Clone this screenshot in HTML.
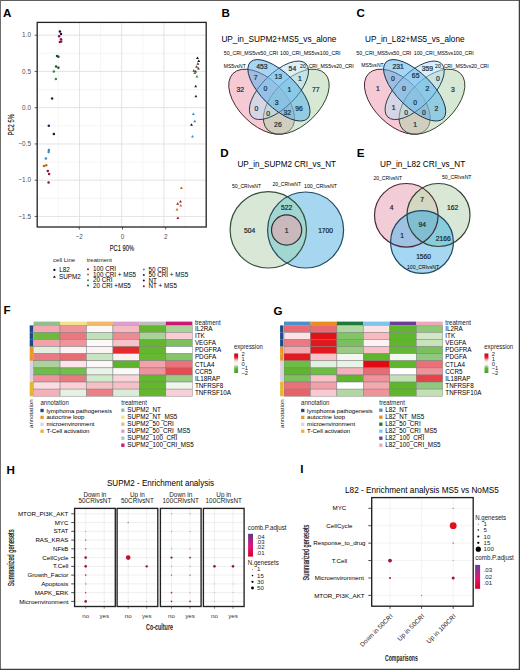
<!DOCTYPE html>
<html><head><meta charset="utf-8"><title>Figure</title>
<style>
html,body{margin:0;padding:0;background:#fff;}
body{width:520px;height:670px;overflow:hidden;}
svg{display:block;font-family:"Liberation Sans",sans-serif;}
</style></head><body>
<svg width="520" height="670" viewBox="0 0 520 670">
<rect width="520" height="670" fill="#fff"/>
<rect x="0" y="0" width="520" height="1" fill="#5e5e5e"/>
<rect x="0" y="0" width="1" height="670" fill="#6e6e6e"/>
<rect x="518.75" y="0" width="1.25" height="670" fill="#3c3c3c"/>
<rect x="0" y="668.75" width="520" height="1.25" fill="#3c3c3c"/>
<text x="3.00" y="16.80" font-size="11.60" font-weight="bold" fill="#000">A</text>
<text x="221.60" y="16.70" font-size="11.60" font-weight="bold" fill="#000">B</text>
<text x="356.60" y="16.90" font-size="11.60" font-weight="bold" fill="#000">C</text>
<text x="220.30" y="157.40" font-size="11.60" font-weight="bold" fill="#000">D</text>
<text x="356.80" y="156.60" font-size="11.60" font-weight="bold" fill="#000">E</text>
<text x="3.40" y="314.10" font-size="11.60" font-weight="bold" fill="#000">F</text>
<text x="273.40" y="314.50" font-size="11.60" font-weight="bold" fill="#000">G</text>
<text x="6.50" y="473.50" font-size="11.60" font-weight="bold" fill="#000">H</text>
<text x="300.20" y="473.10" font-size="11.60" font-weight="bold" fill="#000">I</text>
<line x1="58.40" y1="22.4" x2="58.40" y2="227.0" stroke="#eeeeee" stroke-width="0.6"/>
<line x1="100.60" y1="22.4" x2="100.60" y2="227.0" stroke="#eeeeee" stroke-width="0.6"/>
<line x1="142.80" y1="22.4" x2="142.80" y2="227.0" stroke="#eeeeee" stroke-width="0.6"/>
<line x1="185.00" y1="22.4" x2="185.00" y2="227.0" stroke="#eeeeee" stroke-width="0.6"/>
<line x1="37.2" y1="53.33" x2="206.2" y2="53.33" stroke="#eeeeee" stroke-width="0.6"/>
<line x1="37.2" y1="89.58" x2="206.2" y2="89.58" stroke="#eeeeee" stroke-width="0.6"/>
<line x1="37.2" y1="125.83" x2="206.2" y2="125.83" stroke="#eeeeee" stroke-width="0.6"/>
<line x1="37.2" y1="162.07" x2="206.2" y2="162.07" stroke="#eeeeee" stroke-width="0.6"/>
<line x1="37.2" y1="198.32" x2="206.2" y2="198.32" stroke="#eeeeee" stroke-width="0.6"/>
<line x1="79.50" y1="22.4" x2="79.50" y2="227.0" stroke="#e0e0e0" stroke-width="0.9"/>
<line x1="121.70" y1="22.4" x2="121.70" y2="227.0" stroke="#e0e0e0" stroke-width="0.9"/>
<line x1="163.90" y1="22.4" x2="163.90" y2="227.0" stroke="#e0e0e0" stroke-width="0.9"/>
<line x1="37.2" y1="35.20" x2="206.2" y2="35.20" stroke="#e0e0e0" stroke-width="0.9"/>
<line x1="37.2" y1="71.45" x2="206.2" y2="71.45" stroke="#e0e0e0" stroke-width="0.9"/>
<line x1="37.2" y1="107.70" x2="206.2" y2="107.70" stroke="#e0e0e0" stroke-width="0.9"/>
<line x1="37.2" y1="143.95" x2="206.2" y2="143.95" stroke="#e0e0e0" stroke-width="0.9"/>
<line x1="37.2" y1="180.20" x2="206.2" y2="180.20" stroke="#e0e0e0" stroke-width="0.9"/>
<line x1="37.2" y1="216.45" x2="206.2" y2="216.45" stroke="#e0e0e0" stroke-width="0.9"/>
<circle cx="59.9" cy="31.4" r="1.25" fill="#240a30"/>
<circle cx="61.0" cy="34.0" r="1.25" fill="#240a30"/>
<circle cx="59.1" cy="36.2" r="1.25" fill="#920f50"/>
<circle cx="61.0" cy="39.3" r="1.25" fill="#920f50"/>
<circle cx="59.9" cy="42.0" r="1.25" fill="#920f50"/>
<circle cx="61.2" cy="41.6" r="1.25" fill="#96142a"/>
<circle cx="57.0" cy="55.9" r="1.25" fill="#1a5530"/>
<circle cx="58.4" cy="56.8" r="1.25" fill="#1a5530"/>
<circle cx="56.1" cy="66.6" r="1.25" fill="#1a5530"/>
<circle cx="58.4" cy="67.8" r="1.25" fill="#1a5530"/>
<circle cx="53.9" cy="71.6" r="1.25" fill="#3a8a32"/>
<circle cx="55.9" cy="79.0" r="1.25" fill="#3a8a32"/>
<circle cx="52.1" cy="98.6" r="1.25" fill="#14284c"/>
<circle cx="48.8" cy="125.7" r="1.25" fill="#14284c"/>
<circle cx="53.9" cy="134.1" r="1.25" fill="#240a30"/>
<circle cx="48.9" cy="150.0" r="1.25" fill="#3a88c0"/>
<circle cx="48.6" cy="152.1" r="1.25" fill="#3a88c0"/>
<circle cx="45.9" cy="158.4" r="1.25" fill="#3a88c0"/>
<circle cx="44.0" cy="166.1" r="1.25" fill="#b86a1e"/>
<circle cx="46.2" cy="165.2" r="1.25" fill="#b86a1e"/>
<circle cx="47.8" cy="170.9" r="1.25" fill="#96142a"/>
<circle cx="49.1" cy="174.0" r="1.25" fill="#96142a"/>
<circle cx="48.6" cy="182.5" r="1.25" fill="#96142a"/>
<path d="M197.50,56.40 L198.95,58.90 L196.05,58.90 Z" fill="#240a30"/>
<path d="M198.80,59.40 L200.25,61.90 L197.35,61.90 Z" fill="#240a30"/>
<path d="M197.90,62.30 L199.35,64.80 L196.45,64.80 Z" fill="#920f50"/>
<path d="M196.60,65.20 L198.05,67.70 L195.15,67.70 Z" fill="#1a5530"/>
<path d="M198.40,67.00 L199.85,69.50 L196.95,69.50 Z" fill="#1a5530"/>
<path d="M193.90,69.20 L195.35,71.70 L192.45,71.70 Z" fill="#96142a"/>
<path d="M195.70,70.10 L197.15,72.60 L194.25,72.60 Z" fill="#920f50"/>
<path d="M194.80,71.50 L196.25,74.00 L193.35,74.00 Z" fill="#3a8a32"/>
<path d="M197.00,75.10 L198.45,77.60 L195.55,77.60 Z" fill="#3a8a32"/>
<path d="M195.70,84.80 L197.15,87.30 L194.25,87.30 Z" fill="#14284c"/>
<path d="M195.90,94.70 L197.35,97.20 L194.45,97.20 Z" fill="#14284c"/>
<path d="M193.40,112.60 L194.85,115.10 L191.95,115.10 Z" fill="#3a88c0"/>
<path d="M194.80,119.80 L196.25,122.30 L193.35,122.30 Z" fill="#3a88c0"/>
<path d="M191.50,123.30 L192.95,125.80 L190.05,125.80 Z" fill="#240a30"/>
<path d="M192.50,135.00 L193.95,137.50 L191.05,137.50 Z" fill="#3a88c0"/>
<path d="M181.40,186.50 L182.85,189.00 L179.95,189.00 Z" fill="#b86a1e"/>
<path d="M180.50,199.90 L181.95,202.40 L179.05,202.40 Z" fill="#96142a"/>
<path d="M177.70,202.30 L179.15,204.80 L176.25,204.80 Z" fill="#96142a"/>
<path d="M180.70,204.10 L182.15,206.60 L179.25,206.60 Z" fill="#b86a1e"/>
<path d="M177.00,208.00 L178.45,210.50 L175.55,210.50 Z" fill="#b86a1e"/>
<path d="M177.90,216.40 L179.35,218.90 L176.45,218.90 Z" fill="#96142a"/>
<rect x="37.2" y="22.4" width="169.00" height="204.60" fill="none" stroke="#222" stroke-width="1.3"/>
<line x1="34.7" y1="35.20" x2="37.2" y2="35.20" stroke="#333" stroke-width="0.8"/>
<text x="31.00" y="37.40" font-size="6.40" text-anchor="end" fill="#4d4d4d">1.0</text>
<line x1="34.7" y1="71.45" x2="37.2" y2="71.45" stroke="#333" stroke-width="0.8"/>
<text x="31.00" y="73.65" font-size="6.40" text-anchor="end" fill="#4d4d4d">0.5</text>
<line x1="34.7" y1="107.70" x2="37.2" y2="107.70" stroke="#333" stroke-width="0.8"/>
<text x="31.00" y="109.90" font-size="6.40" text-anchor="end" fill="#4d4d4d">0.0</text>
<line x1="34.7" y1="143.95" x2="37.2" y2="143.95" stroke="#333" stroke-width="0.8"/>
<text x="31.00" y="146.15" font-size="6.40" text-anchor="end" fill="#4d4d4d">−0.5</text>
<line x1="34.7" y1="180.20" x2="37.2" y2="180.20" stroke="#333" stroke-width="0.8"/>
<text x="31.00" y="182.40" font-size="6.40" text-anchor="end" fill="#4d4d4d">−1.0</text>
<line x1="34.7" y1="216.45" x2="37.2" y2="216.45" stroke="#333" stroke-width="0.8"/>
<text x="31.00" y="218.65" font-size="6.40" text-anchor="end" fill="#4d4d4d">−1.5</text>
<line x1="79.30" y1="227.0" x2="79.30" y2="229.5" stroke="#333" stroke-width="0.8"/>
<text x="79.30" y="238.70" font-size="6.40" text-anchor="middle" fill="#4d4d4d">−2</text>
<line x1="122.50" y1="227.0" x2="122.50" y2="229.5" stroke="#333" stroke-width="0.8"/>
<text x="122.50" y="238.70" font-size="6.40" text-anchor="middle" fill="#4d4d4d">0</text>
<line x1="165.70" y1="227.0" x2="165.70" y2="229.5" stroke="#333" stroke-width="0.8"/>
<text x="165.70" y="238.70" font-size="6.40" text-anchor="middle" fill="#4d4d4d">2</text>
<text x="121.90" y="250.92" font-size="8.20" text-anchor="middle" fill="#111" textLength="24.40" lengthAdjust="spacingAndGlyphs" stroke="#111" stroke-width="0.12">PC1 90%</text>
<text x="11.20" y="127.62" font-size="8.20" text-anchor="middle" fill="#111" textLength="21.20" lengthAdjust="spacingAndGlyphs" transform="rotate(-90 11.20 124.80)" stroke="#111" stroke-width="0.12">PC2 5%</text>
<text x="53.00" y="261.98" font-size="6.05" fill="#222">cell Line</text>
<text x="86.70" y="261.96" font-size="6.00" fill="#222">treatment</text>
<circle cx="54.4" cy="269.9" r="1.1" fill="#000"/>
<path d="M54.4,275.4 L55.8,277.8 L53.0,277.8 Z" fill="#000"/>
<text x="59.20" y="272.07" font-size="6.30">L82</text>
<text x="59.00" y="279.07" font-size="6.30">SUPM2</text>
<circle cx="88.0" cy="269.2" r="1.0" fill="#96142a"/>
<text x="92.90" y="271.37" font-size="6.30">100 CRI</text>
<circle cx="88.0" cy="274.6" r="1.0" fill="#b86a1e"/>
<text x="92.90" y="276.77" font-size="6.30">100 CRI + MS5</text>
<circle cx="88.0" cy="280.2" r="1.0" fill="#3a8a32"/>
<text x="92.90" y="282.37" font-size="6.30">20 CRI</text>
<circle cx="88.0" cy="285.6" r="1.0" fill="#1a5530"/>
<text x="92.90" y="287.77" font-size="6.30">20 CRI +MS5</text>
<circle cx="143.8" cy="269.6" r="1.0" fill="#3a88c0"/>
<text x="148.50" y="271.77" font-size="6.30">50 CRI</text>
<circle cx="143.8" cy="275.0" r="1.0" fill="#14284c"/>
<text x="148.50" y="277.17" font-size="6.30">50 CRI + MS5</text>
<circle cx="143.8" cy="280.4" r="1.0" fill="#240a30"/>
<text x="148.50" y="282.57" font-size="6.30">NT</text>
<circle cx="143.8" cy="286.2" r="1.0" fill="#920f50"/>
<text x="148.50" y="288.37" font-size="6.30">NT + MS5</text>
<text x="221.40" y="42.19" font-size="8.70" textLength="115.00" lengthAdjust="spacingAndGlyphs">UP_in_SUPM2+MS5_vs_alone</text>
<text x="223.75" y="54.79" font-size="5.20" textLength="54.30" lengthAdjust="spacingAndGlyphs">50_CRI_MS5vs50_CRI</text>
<text x="280.00" y="54.79" font-size="5.20" textLength="60.50" lengthAdjust="spacingAndGlyphs">100_CRI_MS5vs100_CRI</text>
<text x="223.75" y="67.79" font-size="5.20" textLength="22.00" lengthAdjust="spacingAndGlyphs">MS5vsNT</text>
<g transform="translate(221.200 155.400) scale(115.500 -114.200)">
<ellipse cx="0.35" cy="0.47" rx="0.35" ry="0.2" transform="rotate(135 0.35 0.47)" fill="#eb95a9" fill-opacity="0.5"/>
<ellipse cx="0.35" cy="0.47" rx="0.35" ry="0.2" transform="rotate(135 0.35 0.47)" fill="none" stroke="#4a2630" stroke-width="1.0" vector-effect="non-scaling-stroke"/>
<ellipse cx="0.65" cy="0.47" rx="0.35" ry="0.2" transform="rotate(45 0.65 0.47)" fill="#afd1a9" fill-opacity="0.5"/>
<ellipse cx="0.65" cy="0.47" rx="0.35" ry="0.2" transform="rotate(45 0.65 0.47)" fill="none" stroke="#33432e" stroke-width="1.0" vector-effect="non-scaling-stroke"/>
<ellipse cx="0.5" cy="0.57" rx="0.33" ry="0.15" transform="rotate(45 0.5 0.57)" fill="#b9ddf1" fill-opacity="0.5"/>
<ellipse cx="0.5" cy="0.57" rx="0.33" ry="0.15" transform="rotate(45 0.5 0.57)" fill="none" stroke="#27404e" stroke-width="1.0" vector-effect="non-scaling-stroke"/>
<ellipse cx="0.5" cy="0.57" rx="0.35" ry="0.15" transform="rotate(135 0.5 0.57)" fill="#50aeeb" fill-opacity="0.5"/>
<ellipse cx="0.5" cy="0.57" rx="0.35" ry="0.15" transform="rotate(135 0.5 0.57)" fill="none" stroke="#1a3550" stroke-width="1.0" vector-effect="non-scaling-stroke"/>
</g>
<text x="261.80" y="68.99" font-size="6.80" text-anchor="middle" fill="#14303f" stroke="#14303f" stroke-width="0.22">453</text>
<text x="278.25" y="78.64" font-size="6.80" text-anchor="middle" fill="#14303f" stroke="#14303f" stroke-width="0.22">13</text>
<text x="292.40" y="71.14" font-size="6.80" text-anchor="middle" fill="#14303f" stroke="#14303f" stroke-width="0.22">54</text>
<text x="255.60" y="80.44" font-size="6.80" text-anchor="middle" fill="#14303f" stroke="#14303f" stroke-width="0.22">7</text>
<text x="265.30" y="91.04" font-size="6.80" text-anchor="middle" fill="#14303f" stroke="#14303f" stroke-width="0.22">0</text>
<text x="276.60" y="104.84" font-size="6.80" text-anchor="middle" fill="#14303f" stroke="#14303f" stroke-width="0.22">3</text>
<text x="289.30" y="91.59" font-size="6.80" text-anchor="middle" fill="#14303f" stroke="#14303f" stroke-width="0.22">1</text>
<text x="299.90" y="81.04" font-size="6.80" text-anchor="middle" fill="#14303f" stroke="#14303f" stroke-width="0.22">1</text>
<text x="240.20" y="91.64" font-size="6.80" text-anchor="middle" fill="#14303f" stroke="#14303f" stroke-width="0.22">32</text>
<text x="256.50" y="110.84" font-size="6.80" text-anchor="middle" fill="#14303f" stroke="#14303f" stroke-width="0.22">0</text>
<text x="268.25" y="115.64" font-size="6.80" text-anchor="middle" fill="#14303f" stroke="#14303f" stroke-width="0.22">0</text>
<text x="277.90" y="127.14" font-size="6.80" text-anchor="middle" fill="#14303f" stroke="#14303f" stroke-width="0.22">26</text>
<text x="287.20" y="114.74" font-size="6.80" text-anchor="middle" fill="#14303f" stroke="#14303f" stroke-width="0.22">32</text>
<text x="299.00" y="110.74" font-size="6.80" text-anchor="middle" fill="#14303f" stroke="#14303f" stroke-width="0.22">96</text>
<text x="315.75" y="91.59" font-size="6.80" text-anchor="middle" fill="#14303f" stroke="#14303f" stroke-width="0.22">77</text>
<text x="300.00" y="67.89" font-size="5.20" textLength="53.80" lengthAdjust="spacingAndGlyphs">20_CRI_MS5vs20_CRI</text>
<text x="365.00" y="42.19" font-size="8.70" textLength="99.50" lengthAdjust="spacingAndGlyphs">UP_in_L82+MS5_vs_alone</text>
<text x="356.25" y="54.79" font-size="5.20" textLength="55.00" lengthAdjust="spacingAndGlyphs">50_CRI_MS5vs50_CRI</text>
<text x="413.75" y="54.79" font-size="5.20" textLength="60.00" lengthAdjust="spacingAndGlyphs">100_CRI_MS5vs100_CRI</text>
<text x="361.25" y="67.39" font-size="5.20" textLength="22.50" lengthAdjust="spacingAndGlyphs">MS5vsNT</text>
<g transform="translate(356.900 155.400) scale(115.500 -114.200)">
<ellipse cx="0.35" cy="0.47" rx="0.35" ry="0.2" transform="rotate(135 0.35 0.47)" fill="#eb95a9" fill-opacity="0.5"/>
<ellipse cx="0.35" cy="0.47" rx="0.35" ry="0.2" transform="rotate(135 0.35 0.47)" fill="none" stroke="#4a2630" stroke-width="1.0" vector-effect="non-scaling-stroke"/>
<ellipse cx="0.65" cy="0.47" rx="0.35" ry="0.2" transform="rotate(45 0.65 0.47)" fill="#afd1a9" fill-opacity="0.5"/>
<ellipse cx="0.65" cy="0.47" rx="0.35" ry="0.2" transform="rotate(45 0.65 0.47)" fill="none" stroke="#33432e" stroke-width="1.0" vector-effect="non-scaling-stroke"/>
<ellipse cx="0.5" cy="0.57" rx="0.33" ry="0.15" transform="rotate(45 0.5 0.57)" fill="#b9ddf1" fill-opacity="0.5"/>
<ellipse cx="0.5" cy="0.57" rx="0.33" ry="0.15" transform="rotate(45 0.5 0.57)" fill="none" stroke="#27404e" stroke-width="1.0" vector-effect="non-scaling-stroke"/>
<ellipse cx="0.5" cy="0.57" rx="0.35" ry="0.15" transform="rotate(135 0.5 0.57)" fill="#50aeeb" fill-opacity="0.5"/>
<ellipse cx="0.5" cy="0.57" rx="0.35" ry="0.15" transform="rotate(135 0.5 0.57)" fill="none" stroke="#1a3550" stroke-width="1.0" vector-effect="non-scaling-stroke"/>
</g>
<text x="398.10" y="68.99" font-size="6.80" text-anchor="middle" fill="#14303f" stroke="#14303f" stroke-width="0.22">231</text>
<text x="415.65" y="78.14" font-size="6.80" text-anchor="middle" fill="#14303f" stroke="#14303f" stroke-width="0.22">65</text>
<text x="427.40" y="70.74" font-size="6.80" text-anchor="middle" fill="#14303f" stroke="#14303f" stroke-width="0.22">359</text>
<text x="392.90" y="80.64" font-size="6.80" text-anchor="middle" fill="#14303f" stroke="#14303f" stroke-width="0.22">0</text>
<text x="403.90" y="91.34" font-size="6.80" text-anchor="middle" fill="#14303f" stroke="#14303f" stroke-width="0.22">0</text>
<text x="415.20" y="104.54" font-size="6.80" text-anchor="middle" fill="#14303f" stroke="#14303f" stroke-width="0.22">0</text>
<text x="427.40" y="91.14" font-size="6.80" text-anchor="middle" fill="#14303f" stroke="#14303f" stroke-width="0.22">2</text>
<text x="438.00" y="81.04" font-size="6.80" text-anchor="middle" fill="#14303f" stroke="#14303f" stroke-width="0.22">0</text>
<text x="377.80" y="91.04" font-size="6.80" text-anchor="middle" fill="#14303f" stroke="#14303f" stroke-width="0.22">1</text>
<text x="393.70" y="110.24" font-size="6.80" text-anchor="middle" fill="#14303f" stroke="#14303f" stroke-width="0.22">1</text>
<text x="406.10" y="115.24" font-size="6.80" text-anchor="middle" fill="#14303f" stroke="#14303f" stroke-width="0.22">0</text>
<text x="415.20" y="127.14" font-size="6.80" text-anchor="middle" fill="#14303f" stroke="#14303f" stroke-width="0.22">1</text>
<text x="424.00" y="115.24" font-size="6.80" text-anchor="middle" fill="#14303f" stroke="#14303f" stroke-width="0.22">0</text>
<text x="436.30" y="110.94" font-size="6.80" text-anchor="middle" fill="#14303f" stroke="#14303f" stroke-width="0.22">2</text>
<text x="453.00" y="91.59" font-size="6.80" text-anchor="middle" fill="#14303f" stroke="#14303f" stroke-width="0.22">3</text>
<text x="435.00" y="67.59" font-size="5.20" textLength="53.80" lengthAdjust="spacingAndGlyphs">20_CRI_MS5vs20_CRI</text>
<text x="237.50" y="166.79" font-size="8.70" textLength="98.50" lengthAdjust="spacingAndGlyphs">UP_in_SUPM2 CRI_vs_NT</text>
<text x="232.00" y="188.15" font-size="5.10" textLength="29.00" lengthAdjust="spacingAndGlyphs">50_CRIvsNT</text>
<text x="272.50" y="186.35" font-size="5.10" textLength="28.50" lengthAdjust="spacingAndGlyphs">20_CRIvsNT</text>
<text x="304.00" y="188.25" font-size="5.10" textLength="33.00" lengthAdjust="spacingAndGlyphs">100_CRIvsNT</text>
<defs><clipPath id="dg"><circle cx="268.3" cy="229.8" r="38.2"/></clipPath></defs>
<circle cx="305.6" cy="230" r="38.0" fill="#a6d6f0"/>
<circle cx="268.3" cy="229.8" r="38.2" fill="#d9e8d6"/>
<circle cx="305.6" cy="230" r="38.0" fill="#a2d6d0" clip-path="url(#dg)"/>
<circle cx="286.6" cy="230" r="15.1" fill="#c9b8bc"/>
<circle cx="268.3" cy="229.8" r="38.2" fill="none" stroke="#34513a" stroke-width="1.2"/>
<circle cx="305.6" cy="230" r="38.0" fill="none" stroke="#1f4a62" stroke-width="1.2"/>
<circle cx="286.6" cy="230" r="15.1" fill="none" stroke="#2a3234" stroke-width="1.2"/>
<text x="249.70" y="232.50" font-size="6.70" text-anchor="middle" fill="#14262f" stroke="#14262f" stroke-width="0.2">504</text>
<text x="286.60" y="210.20" font-size="6.70" text-anchor="middle" fill="#14262f" stroke="#14262f" stroke-width="0.2">522</text>
<text x="286.60" y="232.80" font-size="6.70" text-anchor="middle" fill="#14262f" stroke="#14262f" stroke-width="0.2">1</text>
<text x="325.60" y="232.70" font-size="6.70" text-anchor="middle" fill="#14262f" stroke="#14262f" stroke-width="0.2">1700</text>
<text x="380.00" y="166.89" font-size="8.70" textLength="85.20" lengthAdjust="spacingAndGlyphs">UP_in_L82 CRI_vs_NT</text>
<text x="373.50" y="179.55" font-size="5.10" textLength="28.50" lengthAdjust="spacingAndGlyphs">20_CRIvsNT</text>
<text x="442.00" y="179.05" font-size="5.10" textLength="29.50" lengthAdjust="spacingAndGlyphs">50_CRIvsNT</text>
<defs><clipPath id="ep"><circle cx="406.3" cy="215.3" r="31.8"/></clipPath><clipPath id="eg"><circle cx="438.5" cy="215.0" r="31.5"/></clipPath></defs>
<circle cx="406.3" cy="215.3" r="31.8" fill="#f2cdd7"/>
<circle cx="438.5" cy="215.0" r="31.5" fill="#d9e8d6"/>
<circle cx="422.0" cy="242.0" r="31.4" fill="#a5d7f3"/>
<circle cx="438.5" cy="215.0" r="31.5" fill="#d4d8c0" clip-path="url(#ep)"/>
<circle cx="422.0" cy="242.0" r="31.4" fill="#a0c2e2" clip-path="url(#ep)"/>
<circle cx="422.0" cy="242.0" r="31.4" fill="#87cddc" clip-path="url(#eg)"/>
<g clip-path="url(#ep)"><circle cx="422.0" cy="242.0" r="31.4" fill="#80bed2" clip-path="url(#eg)"/></g>
<circle cx="406.3" cy="215.3" r="31.8" fill="none" stroke="#4f2a38" stroke-width="1.2"/>
<circle cx="438.5" cy="215.0" r="31.5" fill="none" stroke="#344432" stroke-width="1.2"/>
<circle cx="422.0" cy="242.0" r="31.4" fill="none" stroke="#1f4660" stroke-width="1.2"/>
<text x="391.50" y="209.60" font-size="6.70" text-anchor="middle" fill="#14262f" stroke="#14262f" stroke-width="0.2">4</text>
<text x="422.00" y="201.90" font-size="6.70" text-anchor="middle" fill="#14262f" stroke="#14262f" stroke-width="0.2">7</text>
<text x="452.60" y="209.60" font-size="6.70" text-anchor="middle" fill="#14262f" stroke="#14262f" stroke-width="0.2">162</text>
<text x="422.20" y="227.30" font-size="6.70" text-anchor="middle" fill="#14262f" stroke="#14262f" stroke-width="0.2">94</text>
<text x="402.00" y="238.10" font-size="6.70" text-anchor="middle" fill="#14262f" stroke="#14262f" stroke-width="0.2">1</text>
<text x="443.30" y="240.60" font-size="6.70" text-anchor="middle" fill="#14262f" stroke="#14262f" stroke-width="0.2">2166</text>
<text x="423.60" y="258.60" font-size="6.70" text-anchor="middle" fill="#14262f" stroke="#14262f" stroke-width="0.2">1560</text>
<text x="407.00" y="268.75" font-size="5.10" textLength="32.00" lengthAdjust="spacingAndGlyphs">100_CRIvsNT</text>
<rect x="29.70" y="325.40" width="3.3" height="7.13" fill="#1a4a8a"/>
<rect x="29.70" y="332.48" width="3.3" height="7.13" fill="#1a4a8a"/>
<rect x="29.70" y="339.56" width="3.3" height="7.13" fill="#1a4a8a"/>
<rect x="29.70" y="346.64" width="3.3" height="7.13" fill="#e8962a"/>
<rect x="29.70" y="353.72" width="3.3" height="7.13" fill="#e8962a"/>
<rect x="29.70" y="360.80" width="3.3" height="7.13" fill="#dcd0e6"/>
<rect x="29.70" y="367.88" width="3.3" height="7.13" fill="#dcd0e6"/>
<rect x="29.70" y="374.96" width="3.3" height="7.13" fill="#dcd0e6"/>
<rect x="29.70" y="382.04" width="3.3" height="7.13" fill="#e6b530"/>
<rect x="29.70" y="389.12" width="3.3" height="7.13" fill="#e6b530"/>
<rect x="33.60" y="321.6" width="26.50" height="3.5" fill="#8fbf8a"/>
<rect x="60.05" y="321.6" width="26.50" height="3.5" fill="#f2e28a"/>
<rect x="86.50" y="321.6" width="26.50" height="3.5" fill="#f2b96c"/>
<rect x="112.95" y="321.6" width="26.50" height="3.5" fill="#d9a0cf"/>
<rect x="139.40" y="321.6" width="26.50" height="3.5" fill="#bdbdbd"/>
<rect x="165.85" y="321.6" width="26.50" height="3.5" fill="#cf1677"/>
<rect x="33.60" y="325.40" width="26.45" height="7.08" fill="#f4a9b2" stroke="#7a7a7a" stroke-width="0.45"/>
<rect x="33.60" y="332.48" width="26.45" height="7.08" fill="#6cb93d" stroke="#7a7a7a" stroke-width="0.45"/>
<rect x="33.60" y="339.56" width="26.45" height="7.08" fill="#f2a2ab" stroke="#7a7a7a" stroke-width="0.45"/>
<rect x="33.60" y="346.64" width="26.45" height="7.08" fill="#e2efe0" stroke="#7a7a7a" stroke-width="0.45"/>
<rect x="33.60" y="353.72" width="26.45" height="7.08" fill="#e97a83" stroke="#7a7a7a" stroke-width="0.45"/>
<rect x="33.60" y="360.80" width="26.45" height="7.08" fill="#a9d39b" stroke="#7a7a7a" stroke-width="0.45"/>
<rect x="33.60" y="367.88" width="26.45" height="7.08" fill="#70bc4b" stroke="#7a7a7a" stroke-width="0.45"/>
<rect x="33.60" y="374.96" width="26.45" height="7.08" fill="#f0929b" stroke="#7a7a7a" stroke-width="0.45"/>
<rect x="33.60" y="382.04" width="26.45" height="7.08" fill="#f9dde1" stroke="#7a7a7a" stroke-width="0.45"/>
<rect x="33.60" y="389.12" width="26.45" height="7.08" fill="#f4b1b9" stroke="#7a7a7a" stroke-width="0.45"/>
<rect x="60.05" y="325.40" width="26.45" height="7.08" fill="#f0939b" stroke="#7a7a7a" stroke-width="0.45"/>
<rect x="60.05" y="332.48" width="26.45" height="7.08" fill="#e97880" stroke="#7a7a7a" stroke-width="0.45"/>
<rect x="60.05" y="339.56" width="26.45" height="7.08" fill="#f0939b" stroke="#7a7a7a" stroke-width="0.45"/>
<rect x="60.05" y="346.64" width="26.45" height="7.08" fill="#fcf3f4" stroke="#7a7a7a" stroke-width="0.45"/>
<rect x="60.05" y="353.72" width="26.45" height="7.08" fill="#e86a72" stroke="#7a7a7a" stroke-width="0.45"/>
<rect x="60.05" y="360.80" width="26.45" height="7.08" fill="#fce4e8" stroke="#7a7a7a" stroke-width="0.45"/>
<rect x="60.05" y="367.88" width="26.45" height="7.08" fill="#72bd4d" stroke="#7a7a7a" stroke-width="0.45"/>
<rect x="60.05" y="374.96" width="26.45" height="7.08" fill="#e97880" stroke="#7a7a7a" stroke-width="0.45"/>
<rect x="60.05" y="382.04" width="26.45" height="7.08" fill="#f8d0d5" stroke="#7a7a7a" stroke-width="0.45"/>
<rect x="60.05" y="389.12" width="26.45" height="7.08" fill="#e5f1e4" stroke="#7a7a7a" stroke-width="0.45"/>
<rect x="86.50" y="325.40" width="26.45" height="7.08" fill="#fdf8f8" stroke="#7a7a7a" stroke-width="0.45"/>
<rect x="86.50" y="332.48" width="26.45" height="7.08" fill="#c2e1ba" stroke="#7a7a7a" stroke-width="0.45"/>
<rect x="86.50" y="339.56" width="26.45" height="7.08" fill="#fdf8f8" stroke="#7a7a7a" stroke-width="0.45"/>
<rect x="86.50" y="346.64" width="26.45" height="7.08" fill="#fcf4f4" stroke="#7a7a7a" stroke-width="0.45"/>
<rect x="86.50" y="353.72" width="26.45" height="7.08" fill="#c9e4c1" stroke="#7a7a7a" stroke-width="0.45"/>
<rect x="86.50" y="360.80" width="26.45" height="7.08" fill="#fdf8f8" stroke="#7a7a7a" stroke-width="0.45"/>
<rect x="86.50" y="367.88" width="26.45" height="7.08" fill="#e9f4e8" stroke="#7a7a7a" stroke-width="0.45"/>
<rect x="86.50" y="374.96" width="26.45" height="7.08" fill="#d2e9cb" stroke="#7a7a7a" stroke-width="0.45"/>
<rect x="86.50" y="382.04" width="26.45" height="7.08" fill="#f5c0c6" stroke="#7a7a7a" stroke-width="0.45"/>
<rect x="86.50" y="389.12" width="26.45" height="7.08" fill="#ec8089" stroke="#7a7a7a" stroke-width="0.45"/>
<rect x="112.95" y="325.40" width="26.45" height="7.08" fill="#f5bac2" stroke="#7a7a7a" stroke-width="0.45"/>
<rect x="112.95" y="332.48" width="26.45" height="7.08" fill="#ed8a93" stroke="#7a7a7a" stroke-width="0.45"/>
<rect x="112.95" y="339.56" width="26.45" height="7.08" fill="#f6c3ca" stroke="#7a7a7a" stroke-width="0.45"/>
<rect x="112.95" y="346.64" width="26.45" height="7.08" fill="#e52a2e" stroke="#7a7a7a" stroke-width="0.45"/>
<rect x="112.95" y="353.72" width="26.45" height="7.08" fill="#fcf0f0" stroke="#7a7a7a" stroke-width="0.45"/>
<rect x="112.95" y="360.80" width="26.45" height="7.08" fill="#5fb32b" stroke="#7a7a7a" stroke-width="0.45"/>
<rect x="112.95" y="367.88" width="26.45" height="7.08" fill="#fdf8f8" stroke="#7a7a7a" stroke-width="0.45"/>
<rect x="112.95" y="374.96" width="26.45" height="7.08" fill="#f8d5da" stroke="#7a7a7a" stroke-width="0.45"/>
<rect x="112.95" y="382.04" width="26.45" height="7.08" fill="#f5c1c8" stroke="#7a7a7a" stroke-width="0.45"/>
<rect x="112.95" y="389.12" width="26.45" height="7.08" fill="#d9ecd7" stroke="#7a7a7a" stroke-width="0.45"/>
<rect x="139.40" y="325.40" width="26.45" height="7.08" fill="#62b72c" stroke="#7a7a7a" stroke-width="0.45"/>
<rect x="139.40" y="332.48" width="26.45" height="7.08" fill="#a9d499" stroke="#7a7a7a" stroke-width="0.45"/>
<rect x="139.40" y="339.56" width="26.45" height="7.08" fill="#62b72c" stroke="#7a7a7a" stroke-width="0.45"/>
<rect x="139.40" y="346.64" width="26.45" height="7.08" fill="#62b72c" stroke="#7a7a7a" stroke-width="0.45"/>
<rect x="139.40" y="353.72" width="26.45" height="7.08" fill="#66b834" stroke="#7a7a7a" stroke-width="0.45"/>
<rect x="139.40" y="360.80" width="26.45" height="7.08" fill="#f1a2aa" stroke="#7a7a7a" stroke-width="0.45"/>
<rect x="139.40" y="367.88" width="26.45" height="7.08" fill="#ee939b" stroke="#7a7a7a" stroke-width="0.45"/>
<rect x="139.40" y="374.96" width="26.45" height="7.08" fill="#62b72c" stroke="#7a7a7a" stroke-width="0.45"/>
<rect x="139.40" y="382.04" width="26.45" height="7.08" fill="#62b72c" stroke="#7a7a7a" stroke-width="0.45"/>
<rect x="139.40" y="389.12" width="26.45" height="7.08" fill="#62b72c" stroke="#7a7a7a" stroke-width="0.45"/>
<rect x="165.85" y="325.40" width="26.45" height="7.08" fill="#a9d499" stroke="#7a7a7a" stroke-width="0.45"/>
<rect x="165.85" y="332.48" width="26.45" height="7.08" fill="#f8cdd4" stroke="#7a7a7a" stroke-width="0.45"/>
<rect x="165.85" y="339.56" width="26.45" height="7.08" fill="#7ac05c" stroke="#7a7a7a" stroke-width="0.45"/>
<rect x="165.85" y="346.64" width="26.45" height="7.08" fill="#fefefe" stroke="#7a7a7a" stroke-width="0.45"/>
<rect x="165.85" y="353.72" width="26.45" height="7.08" fill="#83c567" stroke="#7a7a7a" stroke-width="0.45"/>
<rect x="165.85" y="360.80" width="26.45" height="7.08" fill="#e9727b" stroke="#7a7a7a" stroke-width="0.45"/>
<rect x="165.85" y="367.88" width="26.45" height="7.08" fill="#e64a52" stroke="#7a7a7a" stroke-width="0.45"/>
<rect x="165.85" y="374.96" width="26.45" height="7.08" fill="#99cc82" stroke="#7a7a7a" stroke-width="0.45"/>
<rect x="165.85" y="382.04" width="26.45" height="7.08" fill="#eef6ee" stroke="#7a7a7a" stroke-width="0.45"/>
<rect x="165.85" y="389.12" width="26.45" height="7.08" fill="#f8d1d8" stroke="#7a7a7a" stroke-width="0.45"/>
<text x="194.90" y="325.20" font-size="6.40" fill="#222" textLength="25.70" lengthAdjust="spacingAndGlyphs">treatment</text>
<text x="194.90" y="331.11" font-size="6.30">IL2RA</text>
<text x="194.90" y="338.19" font-size="6.30">ITK</text>
<text x="194.90" y="345.27" font-size="6.30">VEGFA</text>
<text x="194.90" y="352.35" font-size="6.30">PDGFRA</text>
<text x="194.90" y="359.43" font-size="6.30">PDGFA</text>
<text x="194.90" y="366.51" font-size="6.30">CTLA4</text>
<text x="194.90" y="373.59" font-size="6.30">CCR5</text>
<text x="194.90" y="380.67" font-size="6.30">IL18RAP</text>
<text x="194.90" y="387.75" font-size="6.30">TNFRSF8</text>
<text x="194.90" y="394.83" font-size="6.30">TNFRSF10A</text>
<text x="234.00" y="349.27" font-size="6.60" fill="#222" textLength="28.80" lengthAdjust="spacingAndGlyphs">expression</text>
<defs><linearGradient id="g234" x1="0" y1="0" x2="0" y2="1"><stop offset="0" stop-color="#c8001a"/><stop offset="0.2" stop-color="#e0182e"/><stop offset="0.33" stop-color="#f4b4b8"/><stop offset="0.43" stop-color="#fdf0ea"/><stop offset="0.56" stop-color="#fbf8f2"/><stop offset="0.66" stop-color="#a4d69c"/><stop offset="0.76" stop-color="#5fb242"/><stop offset="1" stop-color="#4a9c2a"/></linearGradient></defs>
<rect x="234.20" y="353.5" width="3.9" height="19.5" fill="url(#g234)"/>
<text x="241.40" y="356.20" font-size="5.80" fill="#222">2</text>
<text x="241.40" y="360.70" font-size="5.80" fill="#222">1</text>
<text x="241.40" y="365.50" font-size="5.80" fill="#222">0</text>
<text x="241.40" y="370.30" font-size="5.80" fill="#222">−1</text>
<text x="241.40" y="374.80" font-size="5.80" fill="#222">−2</text>
<text x="31.20" y="415.80" font-size="6.10" text-anchor="middle" fill="#222" transform="rotate(-90 31.20 413.70)">annotation</text>
<text x="40.40" y="405.24" font-size="6.50" fill="#222" textLength="28.40" lengthAdjust="spacingAndGlyphs">annotation</text>
<rect x="40.40" y="408.85" width="3.3" height="3.3" fill="#1a4a8a"/>
<text x="46.40" y="412.58" font-size="6.06">lymphoma pathogenesis</text>
<rect x="40.40" y="415.75" width="3.3" height="3.3" fill="#e8962a"/>
<text x="46.40" y="419.48" font-size="6.06">autocrine loop</text>
<rect x="40.40" y="422.65" width="3.3" height="3.3" fill="#dcd0e6"/>
<text x="46.40" y="426.38" font-size="6.06">microenvironment</text>
<rect x="40.40" y="429.55" width="3.3" height="3.3" fill="#e6b530"/>
<text x="46.40" y="433.28" font-size="6.06">T-Cell activation</text>
<text x="121.20" y="405.24" font-size="6.50" fill="#222" textLength="25.70" lengthAdjust="spacingAndGlyphs">treatment</text>
<rect x="121.20" y="408.55" width="3.3" height="3.3" fill="#8fbf8a"/>
<text x="127.30" y="412.37" font-size="6.30">SUPM2_NT</text>
<rect x="121.20" y="415.55" width="3.3" height="3.3" fill="#f2e28a"/>
<text x="127.30" y="419.37" font-size="6.30">SUPM2_NT_MS5</text>
<rect x="121.20" y="422.55" width="3.3" height="3.3" fill="#f2b96c"/>
<text x="127.30" y="426.37" font-size="6.30">SUPM2_50_CRI</text>
<rect x="121.20" y="429.55" width="3.3" height="3.3" fill="#d9a0cf"/>
<text x="127.30" y="433.37" font-size="6.30">SUPM2_50_CRI_MS5</text>
<rect x="121.20" y="436.55" width="3.3" height="3.3" fill="#bdbdbd"/>
<text x="127.30" y="440.37" font-size="6.30">SUPM2_100_CRI</text>
<rect x="121.20" y="443.55" width="3.3" height="3.3" fill="#cf1677"/>
<text x="127.30" y="447.37" font-size="6.30">SUPM2_100_CRI_MS5</text>
<rect x="280.10" y="325.40" width="3.3" height="7.13" fill="#1a4a8a"/>
<rect x="280.10" y="332.48" width="3.3" height="7.13" fill="#1a4a8a"/>
<rect x="280.10" y="339.56" width="3.3" height="7.13" fill="#1a4a8a"/>
<rect x="280.10" y="346.64" width="3.3" height="7.13" fill="#e8962a"/>
<rect x="280.10" y="353.72" width="3.3" height="7.13" fill="#e8962a"/>
<rect x="280.10" y="360.80" width="3.3" height="7.13" fill="#dcd0e6"/>
<rect x="280.10" y="367.88" width="3.3" height="7.13" fill="#dcd0e6"/>
<rect x="280.10" y="374.96" width="3.3" height="7.13" fill="#dcd0e6"/>
<rect x="280.10" y="382.04" width="3.3" height="7.13" fill="#e6b530"/>
<rect x="280.10" y="389.12" width="3.3" height="7.13" fill="#e6b530"/>
<rect x="284.00" y="321.6" width="26.50" height="3.5" fill="#4a8fc8"/>
<rect x="310.45" y="321.6" width="26.50" height="3.5" fill="#e88d1e"/>
<rect x="336.90" y="321.6" width="26.50" height="3.5" fill="#1a7a3e"/>
<rect x="363.35" y="321.6" width="26.50" height="3.5" fill="#7cc6ee"/>
<rect x="389.80" y="321.6" width="26.50" height="3.5" fill="#6a3d9a"/>
<rect x="416.25" y="321.6" width="26.50" height="3.5" fill="#f0a8b8"/>
<rect x="284.00" y="325.40" width="26.45" height="7.08" fill="#e96a72" stroke="#7a7a7a" stroke-width="0.45"/>
<rect x="284.00" y="332.48" width="26.45" height="7.08" fill="#fce1e5" stroke="#7a7a7a" stroke-width="0.45"/>
<rect x="284.00" y="339.56" width="26.45" height="7.08" fill="#ec7880" stroke="#7a7a7a" stroke-width="0.45"/>
<rect x="284.00" y="346.64" width="26.45" height="7.08" fill="#f4a9b1" stroke="#7a7a7a" stroke-width="0.45"/>
<rect x="284.00" y="353.72" width="26.45" height="7.08" fill="#e31a1f" stroke="#7a7a7a" stroke-width="0.45"/>
<rect x="284.00" y="360.80" width="26.45" height="7.08" fill="#6dbc44" stroke="#7a7a7a" stroke-width="0.45"/>
<rect x="284.00" y="367.88" width="26.45" height="7.08" fill="#5fb52c" stroke="#7a7a7a" stroke-width="0.45"/>
<rect x="284.00" y="374.96" width="26.45" height="7.08" fill="#7dc15e" stroke="#7a7a7a" stroke-width="0.45"/>
<rect x="284.00" y="382.04" width="26.45" height="7.08" fill="#e9727a" stroke="#7a7a7a" stroke-width="0.45"/>
<rect x="284.00" y="389.12" width="26.45" height="7.08" fill="#e8626a" stroke="#7a7a7a" stroke-width="0.45"/>
<rect x="310.45" y="325.40" width="26.45" height="7.08" fill="#e96a72" stroke="#7a7a7a" stroke-width="0.45"/>
<rect x="310.45" y="332.48" width="26.45" height="7.08" fill="#e21118" stroke="#7a7a7a" stroke-width="0.45"/>
<rect x="310.45" y="339.56" width="26.45" height="7.08" fill="#e3181e" stroke="#7a7a7a" stroke-width="0.45"/>
<rect x="310.45" y="346.64" width="26.45" height="7.08" fill="#e3181e" stroke="#7a7a7a" stroke-width="0.45"/>
<rect x="310.45" y="353.72" width="26.45" height="7.08" fill="#f8c2c9" stroke="#7a7a7a" stroke-width="0.45"/>
<rect x="310.45" y="360.80" width="26.45" height="7.08" fill="#e1f0df" stroke="#7a7a7a" stroke-width="0.45"/>
<rect x="310.45" y="367.88" width="26.45" height="7.08" fill="#6dbc44" stroke="#7a7a7a" stroke-width="0.45"/>
<rect x="310.45" y="374.96" width="26.45" height="7.08" fill="#f8c2c9" stroke="#7a7a7a" stroke-width="0.45"/>
<rect x="310.45" y="382.04" width="26.45" height="7.08" fill="#f0a1a9" stroke="#7a7a7a" stroke-width="0.45"/>
<rect x="310.45" y="389.12" width="26.45" height="7.08" fill="#f8c9d0" stroke="#7a7a7a" stroke-width="0.45"/>
<rect x="336.90" y="325.40" width="26.45" height="7.08" fill="#b1d8a2" stroke="#7a7a7a" stroke-width="0.45"/>
<rect x="336.90" y="332.48" width="26.45" height="7.08" fill="#81c565" stroke="#7a7a7a" stroke-width="0.45"/>
<rect x="336.90" y="339.56" width="26.45" height="7.08" fill="#7ac05c" stroke="#7a7a7a" stroke-width="0.45"/>
<rect x="336.90" y="346.64" width="26.45" height="7.08" fill="#99cc82" stroke="#7a7a7a" stroke-width="0.45"/>
<rect x="336.90" y="353.72" width="26.45" height="7.08" fill="#f1f8f0" stroke="#7a7a7a" stroke-width="0.45"/>
<rect x="336.90" y="360.80" width="26.45" height="7.08" fill="#e8f4e7" stroke="#7a7a7a" stroke-width="0.45"/>
<rect x="336.90" y="367.88" width="26.45" height="7.08" fill="#f4b1b9" stroke="#7a7a7a" stroke-width="0.45"/>
<rect x="336.90" y="374.96" width="26.45" height="7.08" fill="#5fb52c" stroke="#7a7a7a" stroke-width="0.45"/>
<rect x="336.90" y="382.04" width="26.45" height="7.08" fill="#ffffff" stroke="#7a7a7a" stroke-width="0.45"/>
<rect x="336.90" y="389.12" width="26.45" height="7.08" fill="#b1d8a2" stroke="#7a7a7a" stroke-width="0.45"/>
<rect x="363.35" y="325.40" width="26.45" height="7.08" fill="#fce1e5" stroke="#7a7a7a" stroke-width="0.45"/>
<rect x="363.35" y="332.48" width="26.45" height="7.08" fill="#f8b9c1" stroke="#7a7a7a" stroke-width="0.45"/>
<rect x="363.35" y="339.56" width="26.45" height="7.08" fill="#fdf1f3" stroke="#7a7a7a" stroke-width="0.45"/>
<rect x="363.35" y="346.64" width="26.45" height="7.08" fill="#f8c1c9" stroke="#7a7a7a" stroke-width="0.45"/>
<rect x="363.35" y="353.72" width="26.45" height="7.08" fill="#5fb52c" stroke="#7a7a7a" stroke-width="0.45"/>
<rect x="363.35" y="360.80" width="26.45" height="7.08" fill="#e10a12" stroke="#7a7a7a" stroke-width="0.45"/>
<rect x="363.35" y="367.88" width="26.45" height="7.08" fill="#e96a72" stroke="#7a7a7a" stroke-width="0.45"/>
<rect x="363.35" y="374.96" width="26.45" height="7.08" fill="#f0929a" stroke="#7a7a7a" stroke-width="0.45"/>
<rect x="363.35" y="382.04" width="26.45" height="7.08" fill="#f4a9b1" stroke="#7a7a7a" stroke-width="0.45"/>
<rect x="363.35" y="389.12" width="26.45" height="7.08" fill="#f0929a" stroke="#7a7a7a" stroke-width="0.45"/>
<rect x="389.80" y="325.40" width="26.45" height="7.08" fill="#5fb52c" stroke="#7a7a7a" stroke-width="0.45"/>
<rect x="389.80" y="332.48" width="26.45" height="7.08" fill="#5fb52c" stroke="#7a7a7a" stroke-width="0.45"/>
<rect x="389.80" y="339.56" width="26.45" height="7.08" fill="#5fb52c" stroke="#7a7a7a" stroke-width="0.45"/>
<rect x="389.80" y="346.64" width="26.45" height="7.08" fill="#64b733" stroke="#7a7a7a" stroke-width="0.45"/>
<rect x="389.80" y="353.72" width="26.45" height="7.08" fill="#f1f8f0" stroke="#7a7a7a" stroke-width="0.45"/>
<rect x="389.80" y="360.80" width="26.45" height="7.08" fill="#5fb52c" stroke="#7a7a7a" stroke-width="0.45"/>
<rect x="389.80" y="367.88" width="26.45" height="7.08" fill="#ffffff" stroke="#7a7a7a" stroke-width="0.45"/>
<rect x="389.80" y="374.96" width="26.45" height="7.08" fill="#c1e0b3" stroke="#7a7a7a" stroke-width="0.45"/>
<rect x="389.80" y="382.04" width="26.45" height="7.08" fill="#5fb52c" stroke="#7a7a7a" stroke-width="0.45"/>
<rect x="389.80" y="389.12" width="26.45" height="7.08" fill="#5fb52c" stroke="#7a7a7a" stroke-width="0.45"/>
<rect x="416.25" y="325.40" width="26.45" height="7.08" fill="#8dc877" stroke="#7a7a7a" stroke-width="0.45"/>
<rect x="416.25" y="332.48" width="26.45" height="7.08" fill="#d1e8c5" stroke="#7a7a7a" stroke-width="0.45"/>
<rect x="416.25" y="339.56" width="26.45" height="7.08" fill="#c9e4bc" stroke="#7a7a7a" stroke-width="0.45"/>
<rect x="416.25" y="346.64" width="26.45" height="7.08" fill="#7ac05c" stroke="#7a7a7a" stroke-width="0.45"/>
<rect x="416.25" y="353.72" width="26.45" height="7.08" fill="#91c87f" stroke="#7a7a7a" stroke-width="0.45"/>
<rect x="416.25" y="360.80" width="26.45" height="7.08" fill="#ec7078" stroke="#7a7a7a" stroke-width="0.45"/>
<rect x="416.25" y="367.88" width="26.45" height="7.08" fill="#f0929a" stroke="#7a7a7a" stroke-width="0.45"/>
<rect x="416.25" y="374.96" width="26.45" height="7.08" fill="#e6424a" stroke="#7a7a7a" stroke-width="0.45"/>
<rect x="416.25" y="382.04" width="26.45" height="7.08" fill="#91c87f" stroke="#7a7a7a" stroke-width="0.45"/>
<rect x="416.25" y="389.12" width="26.45" height="7.08" fill="#c1e0b3" stroke="#7a7a7a" stroke-width="0.45"/>
<text x="445.30" y="325.20" font-size="6.40" fill="#222" textLength="25.70" lengthAdjust="spacingAndGlyphs">treatment</text>
<text x="445.30" y="331.11" font-size="6.30">IL2RA</text>
<text x="445.30" y="338.19" font-size="6.30">ITK</text>
<text x="445.30" y="345.27" font-size="6.30">VEGFA</text>
<text x="445.30" y="352.35" font-size="6.30">PDGFRA</text>
<text x="445.30" y="359.43" font-size="6.30">PDGFA</text>
<text x="445.30" y="366.51" font-size="6.30">CTLA4</text>
<text x="445.30" y="373.59" font-size="6.30">CCR5</text>
<text x="445.30" y="380.67" font-size="6.30">IL18RAP</text>
<text x="445.30" y="387.75" font-size="6.30">TNFRSF8</text>
<text x="445.30" y="394.83" font-size="6.30">TNFRSF10A</text>
<text x="484.30" y="349.27" font-size="6.60" fill="#222" textLength="28.80" lengthAdjust="spacingAndGlyphs">expression</text>
<defs><linearGradient id="g484" x1="0" y1="0" x2="0" y2="1"><stop offset="0" stop-color="#c8001a"/><stop offset="0.2" stop-color="#e0182e"/><stop offset="0.33" stop-color="#f4b4b8"/><stop offset="0.43" stop-color="#fdf0ea"/><stop offset="0.56" stop-color="#fbf8f2"/><stop offset="0.66" stop-color="#a4d69c"/><stop offset="0.76" stop-color="#5fb242"/><stop offset="1" stop-color="#4a9c2a"/></linearGradient></defs>
<rect x="484.50" y="353.5" width="3.9" height="19.5" fill="url(#g484)"/>
<text x="491.70" y="356.20" font-size="5.80" fill="#222">2</text>
<text x="491.70" y="360.70" font-size="5.80" fill="#222">1</text>
<text x="491.70" y="365.50" font-size="5.80" fill="#222">0</text>
<text x="491.70" y="370.30" font-size="5.80" fill="#222">−1</text>
<text x="491.70" y="374.80" font-size="5.80" fill="#222">−2</text>
<text x="281.80" y="415.80" font-size="6.10" text-anchor="middle" fill="#222" transform="rotate(-90 281.80 413.70)">annotation</text>
<text x="301.10" y="405.24" font-size="6.50" fill="#222" textLength="28.40" lengthAdjust="spacingAndGlyphs">annotation</text>
<rect x="301.10" y="408.85" width="3.3" height="3.3" fill="#1a4a8a"/>
<text x="307.10" y="412.58" font-size="6.06">lymphoma pathogenesis</text>
<rect x="301.10" y="415.75" width="3.3" height="3.3" fill="#e8962a"/>
<text x="307.10" y="419.48" font-size="6.06">autocrine loop</text>
<rect x="301.10" y="422.65" width="3.3" height="3.3" fill="#dcd0e6"/>
<text x="307.10" y="426.38" font-size="6.06">microenvironment</text>
<rect x="301.10" y="429.55" width="3.3" height="3.3" fill="#e6b530"/>
<text x="307.10" y="433.28" font-size="6.06">T-Cell activation</text>
<text x="379.20" y="405.24" font-size="6.50" fill="#222" textLength="25.70" lengthAdjust="spacingAndGlyphs">treatment</text>
<rect x="379.20" y="408.55" width="3.3" height="3.3" fill="#4a8fc8"/>
<text x="385.30" y="412.37" font-size="6.30">L82_NT</text>
<rect x="379.20" y="415.55" width="3.3" height="3.3" fill="#e88d1e"/>
<text x="385.30" y="419.37" font-size="6.30">L82_NT_MS5</text>
<rect x="379.20" y="422.55" width="3.3" height="3.3" fill="#1a7a3e"/>
<text x="385.30" y="426.37" font-size="6.30">L82_50_CRI</text>
<rect x="379.20" y="429.55" width="3.3" height="3.3" fill="#7cc6ee"/>
<text x="385.30" y="433.37" font-size="6.30">L82_50_CRI_MS5</text>
<rect x="379.20" y="436.55" width="3.3" height="3.3" fill="#6a3d9a"/>
<text x="385.30" y="440.37" font-size="6.30">L82_100_CRI</text>
<rect x="379.20" y="443.55" width="3.3" height="3.3" fill="#f0a8b8"/>
<text x="385.30" y="447.37" font-size="6.30">L82_100_CRI_MS5</text>
<text x="107.00" y="485.69" font-size="8.70" textLength="107.00" lengthAdjust="spacingAndGlyphs">SUPM2 - Enrichment analysis</text>
<line x1="74.60" y1="513.80" x2="115.30" y2="513.80" stroke="#e4e4e4" stroke-width="0.6"/>
<line x1="74.60" y1="522.56" x2="115.30" y2="522.56" stroke="#e4e4e4" stroke-width="0.6"/>
<line x1="74.60" y1="531.32" x2="115.30" y2="531.32" stroke="#e4e4e4" stroke-width="0.6"/>
<line x1="74.60" y1="540.08" x2="115.30" y2="540.08" stroke="#e4e4e4" stroke-width="0.6"/>
<line x1="74.60" y1="548.84" x2="115.30" y2="548.84" stroke="#e4e4e4" stroke-width="0.6"/>
<line x1="74.60" y1="557.60" x2="115.30" y2="557.60" stroke="#e4e4e4" stroke-width="0.6"/>
<line x1="74.60" y1="566.36" x2="115.30" y2="566.36" stroke="#e4e4e4" stroke-width="0.6"/>
<line x1="74.60" y1="575.12" x2="115.30" y2="575.12" stroke="#e4e4e4" stroke-width="0.6"/>
<line x1="74.60" y1="583.88" x2="115.30" y2="583.88" stroke="#e4e4e4" stroke-width="0.6"/>
<line x1="74.60" y1="592.64" x2="115.30" y2="592.64" stroke="#e4e4e4" stroke-width="0.6"/>
<line x1="74.60" y1="601.40" x2="115.30" y2="601.40" stroke="#e4e4e4" stroke-width="0.6"/>
<line x1="85.70" y1="508.4" x2="85.70" y2="606.5" stroke="#e4e4e4" stroke-width="0.6"/>
<line x1="104.20" y1="508.4" x2="104.20" y2="606.5" stroke="#e4e4e4" stroke-width="0.6"/>
<text x="94.95" y="496.78" font-size="6.35" text-anchor="middle" fill="#222">Down in</text>
<text x="94.95" y="503.38" font-size="6.35" text-anchor="middle" fill="#222">50CRIvsNT</text>
<text x="85.70" y="617.73" font-size="6.20" text-anchor="middle" fill="#333">no</text>
<text x="104.20" y="617.73" font-size="6.20" text-anchor="middle" fill="#333">yes</text>
<line x1="85.70" y1="606.5" x2="85.70" y2="608.7" stroke="#333" stroke-width="0.6"/>
<line x1="104.20" y1="606.5" x2="104.20" y2="608.7" stroke="#333" stroke-width="0.6"/>
<line x1="117.10" y1="513.80" x2="157.80" y2="513.80" stroke="#e4e4e4" stroke-width="0.6"/>
<line x1="117.10" y1="522.56" x2="157.80" y2="522.56" stroke="#e4e4e4" stroke-width="0.6"/>
<line x1="117.10" y1="531.32" x2="157.80" y2="531.32" stroke="#e4e4e4" stroke-width="0.6"/>
<line x1="117.10" y1="540.08" x2="157.80" y2="540.08" stroke="#e4e4e4" stroke-width="0.6"/>
<line x1="117.10" y1="548.84" x2="157.80" y2="548.84" stroke="#e4e4e4" stroke-width="0.6"/>
<line x1="117.10" y1="557.60" x2="157.80" y2="557.60" stroke="#e4e4e4" stroke-width="0.6"/>
<line x1="117.10" y1="566.36" x2="157.80" y2="566.36" stroke="#e4e4e4" stroke-width="0.6"/>
<line x1="117.10" y1="575.12" x2="157.80" y2="575.12" stroke="#e4e4e4" stroke-width="0.6"/>
<line x1="117.10" y1="583.88" x2="157.80" y2="583.88" stroke="#e4e4e4" stroke-width="0.6"/>
<line x1="117.10" y1="592.64" x2="157.80" y2="592.64" stroke="#e4e4e4" stroke-width="0.6"/>
<line x1="117.10" y1="601.40" x2="157.80" y2="601.40" stroke="#e4e4e4" stroke-width="0.6"/>
<line x1="128.20" y1="508.4" x2="128.20" y2="606.5" stroke="#e4e4e4" stroke-width="0.6"/>
<line x1="146.70" y1="508.4" x2="146.70" y2="606.5" stroke="#e4e4e4" stroke-width="0.6"/>
<text x="137.45" y="496.78" font-size="6.35" text-anchor="middle" fill="#222">Up in</text>
<text x="137.45" y="503.38" font-size="6.35" text-anchor="middle" fill="#222">50CRIvsNT</text>
<text x="128.20" y="617.73" font-size="6.20" text-anchor="middle" fill="#333">no</text>
<text x="146.70" y="617.73" font-size="6.20" text-anchor="middle" fill="#333">yes</text>
<line x1="128.20" y1="606.5" x2="128.20" y2="608.7" stroke="#333" stroke-width="0.6"/>
<line x1="146.70" y1="606.5" x2="146.70" y2="608.7" stroke="#333" stroke-width="0.6"/>
<line x1="160.40" y1="513.80" x2="201.10" y2="513.80" stroke="#e4e4e4" stroke-width="0.6"/>
<line x1="160.40" y1="522.56" x2="201.10" y2="522.56" stroke="#e4e4e4" stroke-width="0.6"/>
<line x1="160.40" y1="531.32" x2="201.10" y2="531.32" stroke="#e4e4e4" stroke-width="0.6"/>
<line x1="160.40" y1="540.08" x2="201.10" y2="540.08" stroke="#e4e4e4" stroke-width="0.6"/>
<line x1="160.40" y1="548.84" x2="201.10" y2="548.84" stroke="#e4e4e4" stroke-width="0.6"/>
<line x1="160.40" y1="557.60" x2="201.10" y2="557.60" stroke="#e4e4e4" stroke-width="0.6"/>
<line x1="160.40" y1="566.36" x2="201.10" y2="566.36" stroke="#e4e4e4" stroke-width="0.6"/>
<line x1="160.40" y1="575.12" x2="201.10" y2="575.12" stroke="#e4e4e4" stroke-width="0.6"/>
<line x1="160.40" y1="583.88" x2="201.10" y2="583.88" stroke="#e4e4e4" stroke-width="0.6"/>
<line x1="160.40" y1="592.64" x2="201.10" y2="592.64" stroke="#e4e4e4" stroke-width="0.6"/>
<line x1="160.40" y1="601.40" x2="201.10" y2="601.40" stroke="#e4e4e4" stroke-width="0.6"/>
<line x1="171.50" y1="508.4" x2="171.50" y2="606.5" stroke="#e4e4e4" stroke-width="0.6"/>
<line x1="190.00" y1="508.4" x2="190.00" y2="606.5" stroke="#e4e4e4" stroke-width="0.6"/>
<text x="180.75" y="496.78" font-size="6.35" text-anchor="middle" fill="#222">Down in</text>
<text x="180.75" y="503.38" font-size="6.35" text-anchor="middle" fill="#222">100CRIvsNT</text>
<text x="171.50" y="617.73" font-size="6.20" text-anchor="middle" fill="#333">no</text>
<text x="190.00" y="617.73" font-size="6.20" text-anchor="middle" fill="#333">yes</text>
<line x1="171.50" y1="606.5" x2="171.50" y2="608.7" stroke="#333" stroke-width="0.6"/>
<line x1="190.00" y1="606.5" x2="190.00" y2="608.7" stroke="#333" stroke-width="0.6"/>
<line x1="203.40" y1="513.80" x2="244.10" y2="513.80" stroke="#e4e4e4" stroke-width="0.6"/>
<line x1="203.40" y1="522.56" x2="244.10" y2="522.56" stroke="#e4e4e4" stroke-width="0.6"/>
<line x1="203.40" y1="531.32" x2="244.10" y2="531.32" stroke="#e4e4e4" stroke-width="0.6"/>
<line x1="203.40" y1="540.08" x2="244.10" y2="540.08" stroke="#e4e4e4" stroke-width="0.6"/>
<line x1="203.40" y1="548.84" x2="244.10" y2="548.84" stroke="#e4e4e4" stroke-width="0.6"/>
<line x1="203.40" y1="557.60" x2="244.10" y2="557.60" stroke="#e4e4e4" stroke-width="0.6"/>
<line x1="203.40" y1="566.36" x2="244.10" y2="566.36" stroke="#e4e4e4" stroke-width="0.6"/>
<line x1="203.40" y1="575.12" x2="244.10" y2="575.12" stroke="#e4e4e4" stroke-width="0.6"/>
<line x1="203.40" y1="583.88" x2="244.10" y2="583.88" stroke="#e4e4e4" stroke-width="0.6"/>
<line x1="203.40" y1="592.64" x2="244.10" y2="592.64" stroke="#e4e4e4" stroke-width="0.6"/>
<line x1="203.40" y1="601.40" x2="244.10" y2="601.40" stroke="#e4e4e4" stroke-width="0.6"/>
<line x1="214.50" y1="508.4" x2="214.50" y2="606.5" stroke="#e4e4e4" stroke-width="0.6"/>
<line x1="233.00" y1="508.4" x2="233.00" y2="606.5" stroke="#e4e4e4" stroke-width="0.6"/>
<text x="223.75" y="496.78" font-size="6.35" text-anchor="middle" fill="#222">Up in</text>
<text x="223.75" y="503.38" font-size="6.35" text-anchor="middle" fill="#222">100CRIvsNT</text>
<text x="214.50" y="617.73" font-size="6.20" text-anchor="middle" fill="#333">no</text>
<text x="233.00" y="617.73" font-size="6.20" text-anchor="middle" fill="#333">yes</text>
<line x1="214.50" y1="606.5" x2="214.50" y2="608.7" stroke="#333" stroke-width="0.6"/>
<line x1="233.00" y1="606.5" x2="233.00" y2="608.7" stroke="#333" stroke-width="0.6"/>
<circle cx="85.70" cy="531.32" r="0.5" fill="#9a7088"/>
<circle cx="85.70" cy="540.08" r="0.7" fill="#b41a52"/>
<circle cx="85.70" cy="548.84" r="0.7" fill="#b41a52"/>
<circle cx="85.70" cy="557.60" r="1.3" fill="#a01242"/>
<circle cx="85.70" cy="566.36" r="1.3" fill="#a01242"/>
<circle cx="85.70" cy="575.12" r="0.8" fill="#b41a52"/>
<circle cx="85.70" cy="583.88" r="0.7" fill="#9a7088"/>
<circle cx="85.70" cy="592.64" r="0.7" fill="#b41a52"/>
<circle cx="85.70" cy="601.40" r="1.3" fill="#a01242"/>
<circle cx="104.20" cy="601.40" r="0.45" fill="#9a7088"/>
<circle cx="128.20" cy="522.56" r="0.7" fill="#9a7088"/>
<circle cx="128.20" cy="557.60" r="2.3" fill="#c0102c"/>
<circle cx="128.20" cy="566.36" r="0.45" fill="#9a7088"/>
<circle cx="128.20" cy="601.40" r="0.45" fill="#9a7088"/>
<circle cx="146.70" cy="566.36" r="1.2" fill="#a01242"/>
<circle cx="146.70" cy="601.40" r="0.45" fill="#9a7088"/>
<circle cx="171.50" cy="513.80" r="0.5" fill="#9a7088"/>
<circle cx="171.50" cy="531.32" r="0.5" fill="#9a7088"/>
<circle cx="171.50" cy="548.84" r="0.5" fill="#9a7088"/>
<circle cx="171.50" cy="557.60" r="1.1" fill="#a01242"/>
<circle cx="171.50" cy="566.36" r="0.5" fill="#9a7088"/>
<circle cx="171.50" cy="575.12" r="0.7" fill="#b41a52"/>
<circle cx="171.50" cy="592.64" r="0.8" fill="#b41a52"/>
<circle cx="171.50" cy="601.40" r="0.8" fill="#b41a52"/>
<circle cx="190.00" cy="513.80" r="0.5" fill="#9a7088"/>
<circle cx="190.00" cy="531.32" r="0.5" fill="#9a7088"/>
<circle cx="190.00" cy="548.84" r="0.5" fill="#9a7088"/>
<circle cx="190.00" cy="557.60" r="0.9" fill="#a01242"/>
<circle cx="190.00" cy="566.36" r="0.5" fill="#9a7088"/>
<circle cx="190.00" cy="575.12" r="0.7" fill="#b41a52"/>
<circle cx="190.00" cy="592.64" r="0.5" fill="#9a7088"/>
<circle cx="190.00" cy="601.40" r="0.8" fill="#b41a52"/>
<circle cx="214.50" cy="566.36" r="1.3" fill="#a01242"/>
<circle cx="214.50" cy="583.88" r="0.45" fill="#9a7088"/>
<circle cx="214.50" cy="592.64" r="0.45" fill="#9a7088"/>
<circle cx="214.50" cy="601.40" r="0.45" fill="#9a7088"/>
<circle cx="233.00" cy="566.36" r="1.3" fill="#a01242"/>
<circle cx="233.00" cy="583.88" r="0.45" fill="#9a7088"/>
<circle cx="233.00" cy="592.64" r="0.45" fill="#9a7088"/>
<circle cx="233.00" cy="601.40" r="0.45" fill="#9a7088"/>
<rect x="74.60" y="508.4" width="40.7" height="98.10" fill="none" stroke="#222" stroke-width="1.35"/>
<rect x="117.10" y="508.4" width="40.7" height="98.10" fill="none" stroke="#222" stroke-width="1.35"/>
<rect x="160.40" y="508.4" width="40.7" height="98.10" fill="none" stroke="#222" stroke-width="1.35"/>
<rect x="203.40" y="508.4" width="40.7" height="98.10" fill="none" stroke="#222" stroke-width="1.35"/>
<line x1="71.20" y1="513.80" x2="74.60" y2="513.80" stroke="#222" stroke-width="0.8"/>
<text x="68.40" y="515.93" font-size="6.20" text-anchor="end">MTOR_PI3K_AKT</text>
<line x1="71.20" y1="522.56" x2="74.60" y2="522.56" stroke="#222" stroke-width="0.8"/>
<text x="68.40" y="524.69" font-size="6.20" text-anchor="end">MYC</text>
<line x1="71.20" y1="531.32" x2="74.60" y2="531.32" stroke="#222" stroke-width="0.8"/>
<text x="68.40" y="533.45" font-size="6.20" text-anchor="end">STAT</text>
<line x1="71.20" y1="540.08" x2="74.60" y2="540.08" stroke="#222" stroke-width="0.8"/>
<text x="68.40" y="542.21" font-size="6.20" text-anchor="end">RAS_KRAS</text>
<line x1="71.20" y1="548.84" x2="74.60" y2="548.84" stroke="#222" stroke-width="0.8"/>
<text x="68.40" y="550.97" font-size="6.20" text-anchor="end">NFkB</text>
<line x1="71.20" y1="557.60" x2="74.60" y2="557.60" stroke="#222" stroke-width="0.8"/>
<text x="68.40" y="559.73" font-size="6.20" text-anchor="end">CellCycle</text>
<line x1="71.20" y1="566.36" x2="74.60" y2="566.36" stroke="#222" stroke-width="0.8"/>
<text x="68.40" y="568.49" font-size="6.20" text-anchor="end">T.Cell</text>
<line x1="71.20" y1="575.12" x2="74.60" y2="575.12" stroke="#222" stroke-width="0.8"/>
<text x="68.40" y="577.25" font-size="6.20" text-anchor="end">Growth_Factor</text>
<line x1="71.20" y1="583.88" x2="74.60" y2="583.88" stroke="#222" stroke-width="0.8"/>
<text x="68.40" y="586.01" font-size="6.20" text-anchor="end">Apoptosis</text>
<line x1="71.20" y1="592.64" x2="74.60" y2="592.64" stroke="#222" stroke-width="0.8"/>
<text x="68.40" y="594.77" font-size="6.20" text-anchor="end">MAPK_ERK</text>
<line x1="71.20" y1="601.40" x2="74.60" y2="601.40" stroke="#222" stroke-width="0.8"/>
<text x="68.40" y="603.53" font-size="6.20" text-anchor="end">Microenvironment</text>
<text x="11.10" y="560.86" font-size="8.60" text-anchor="middle" fill="#111" textLength="56.80" lengthAdjust="spacingAndGlyphs" transform="rotate(-90 11.10 557.90)" stroke="#111" stroke-width="0.2">Summarized genesets</text>
<text x="159.50" y="629.82" font-size="8.20" text-anchor="middle" font-weight="bold" fill="#222" textLength="27.00" lengthAdjust="spacingAndGlyphs">Co-culture</text>
<text x="247.80" y="529.70" font-size="6.40" fill="#222" textLength="38.80" lengthAdjust="spacingAndGlyphs">comb.P.adjust</text>
<defs><linearGradient id="gp" x1="0" y1="0" x2="0" y2="1"><stop offset="0" stop-color="#583a8c"/><stop offset="0.55" stop-color="#e8127a"/><stop offset="1" stop-color="#d4002a"/></linearGradient></defs>
<rect x="248.1" y="533.8" width="4.9" height="22.8" fill="url(#gp)"/>
<text x="256.20" y="539.36" font-size="6.00" fill="#222">.04</text>
<text x="256.20" y="544.06" font-size="6.00" fill="#222">.03</text>
<text x="256.20" y="549.26" font-size="6.00" fill="#222">.02</text>
<text x="256.20" y="554.86" font-size="6.00" fill="#222">.01</text>
<text x="247.80" y="565.10" font-size="6.40" fill="#222" textLength="31.00" lengthAdjust="spacingAndGlyphs">N.genesets</text>
<circle cx="252.5" cy="569.3" r="0.4" fill="#000"/>
<text x="257.00" y="571.42" font-size="6.15" fill="#222">1</text>
<circle cx="252.5" cy="575.6" r="0.8" fill="#000"/>
<text x="257.00" y="577.72" font-size="6.15" fill="#222">15</text>
<circle cx="252.5" cy="581.8" r="1.1" fill="#000"/>
<text x="257.00" y="583.92" font-size="6.15" fill="#222">30</text>
<circle cx="252.5" cy="588.0" r="1.45" fill="#000"/>
<text x="257.00" y="590.12" font-size="6.15" fill="#222">50</text>
<text x="345.00" y="492.79" font-size="8.70" textLength="153.80" lengthAdjust="spacingAndGlyphs">L82 - Enrichment analysis MS5 vs NoMS5</text>
<line x1="371.7" y1="508.30" x2="473.2" y2="508.30" stroke="#ebebeb" stroke-width="0.6"/>
<line x1="371.7" y1="525.72" x2="473.2" y2="525.72" stroke="#ebebeb" stroke-width="0.6"/>
<line x1="371.7" y1="543.14" x2="473.2" y2="543.14" stroke="#ebebeb" stroke-width="0.6"/>
<line x1="371.7" y1="560.56" x2="473.2" y2="560.56" stroke="#ebebeb" stroke-width="0.6"/>
<line x1="371.7" y1="577.98" x2="473.2" y2="577.98" stroke="#ebebeb" stroke-width="0.6"/>
<line x1="371.7" y1="595.40" x2="473.2" y2="595.40" stroke="#ebebeb" stroke-width="0.6"/>
<line x1="390.0" y1="497.6" x2="390.0" y2="606.2" stroke="#ebebeb" stroke-width="0.6"/>
<line x1="421.6" y1="497.6" x2="421.6" y2="606.2" stroke="#ebebeb" stroke-width="0.6"/>
<line x1="453.2" y1="497.6" x2="453.2" y2="606.2" stroke="#ebebeb" stroke-width="0.6"/>
<circle cx="453.2" cy="508.30" r="0.6" fill="#9a7088"/>
<circle cx="453.2" cy="525.72" r="3.4" fill="#e0101e"/>
<circle cx="453.2" cy="543.14" r="0.6" fill="#b41a52"/>
<circle cx="390.0" cy="560.56" r="1.9" fill="#a01242"/>
<circle cx="453.2" cy="560.56" r="0.5" fill="#9a7088"/>
<circle cx="390.0" cy="577.98" r="1.0" fill="#b41a52"/>
<circle cx="453.2" cy="577.98" r="1.5" fill="#a01242"/>
<circle cx="421.6" cy="595.40" r="0.6" fill="#9a7088"/>
<rect x="371.7" y="497.6" width="101.50" height="108.60" fill="none" stroke="#222" stroke-width="1.35"/>
<line x1="368.30" y1="508.30" x2="371.7" y2="508.30" stroke="#222" stroke-width="0.8"/>
<text x="339.40" y="510.43" font-size="6.20" text-anchor="middle">MYC</text>
<line x1="368.30" y1="525.72" x2="371.7" y2="525.72" stroke="#222" stroke-width="0.8"/>
<text x="339.40" y="527.85" font-size="6.20" text-anchor="middle">CellCycle</text>
<line x1="368.30" y1="543.14" x2="371.7" y2="543.14" stroke="#222" stroke-width="0.8"/>
<text x="339.40" y="545.27" font-size="6.20" text-anchor="middle">Response_to_drug</text>
<line x1="368.30" y1="560.56" x2="371.7" y2="560.56" stroke="#222" stroke-width="0.8"/>
<text x="339.40" y="562.69" font-size="6.20" text-anchor="middle">T.Cell</text>
<line x1="368.30" y1="577.98" x2="371.7" y2="577.98" stroke="#222" stroke-width="0.8"/>
<text x="339.40" y="580.11" font-size="6.20" text-anchor="middle">Microenvironment</text>
<line x1="368.30" y1="595.40" x2="371.7" y2="595.40" stroke="#222" stroke-width="0.8"/>
<text x="339.40" y="597.53" font-size="6.20" text-anchor="middle">MTOR_PI3K_AKT</text>
<line x1="390.0" y1="606.2" x2="390.0" y2="608.8000000000001" stroke="#222" stroke-width="0.8"/>
<text x="391.60" y="617.22" font-size="6.45" text-anchor="end" fill="#222" transform="rotate(-45 391.60 615.00)">Down in 50CRI</text>
<line x1="421.6" y1="606.2" x2="421.6" y2="608.8000000000001" stroke="#222" stroke-width="0.8"/>
<text x="423.20" y="617.22" font-size="6.45" text-anchor="end" fill="#222" transform="rotate(-45 423.20 615.00)">Up in 50CRI</text>
<line x1="453.2" y1="606.2" x2="453.2" y2="608.8000000000001" stroke="#222" stroke-width="0.8"/>
<text x="454.80" y="617.22" font-size="6.45" text-anchor="end" fill="#222" transform="rotate(-45 454.80 615.00)">Up in 100CRI</text>
<text x="305.60" y="555.46" font-size="8.60" text-anchor="middle" fill="#111" textLength="55.80" lengthAdjust="spacingAndGlyphs" transform="rotate(-90 305.60 552.50)" stroke="#111" stroke-width="0.2">Summarized genesets</text>
<text x="401.40" y="661.02" font-size="8.20" text-anchor="middle" font-weight="bold" fill="#222" textLength="32.90" lengthAdjust="spacingAndGlyphs">Comparisons</text>
<text x="475.20" y="519.70" font-size="6.40" fill="#222" textLength="30.90" lengthAdjust="spacingAndGlyphs">N.genesets</text>
<circle cx="478.3" cy="524.2" r="0.45" fill="#000"/>
<text x="483.60" y="526.32" font-size="6.15" fill="#222">1</text>
<circle cx="478.3" cy="530.1" r="0.75" fill="#000"/>
<text x="483.60" y="532.22" font-size="6.15" fill="#222">5</text>
<circle cx="478.3" cy="536.5" r="1.0" fill="#000"/>
<text x="483.60" y="538.62" font-size="6.15" fill="#222">10</text>
<circle cx="478.3" cy="542.8" r="1.15" fill="#000"/>
<text x="483.60" y="544.92" font-size="6.15" fill="#222">15</text>
<circle cx="478.3" cy="549.2" r="2.6" fill="#000"/>
<text x="483.60" y="551.32" font-size="6.15" fill="#222">100</text>
<text x="475.20" y="560.00" font-size="6.40" fill="#222" textLength="38.60" lengthAdjust="spacingAndGlyphs">comb.P.adjust</text>
<defs><linearGradient id="gp2" x1="0" y1="0" x2="0" y2="1"><stop offset="0" stop-color="#5e4596"/><stop offset="0.55" stop-color="#e8127a"/><stop offset="1" stop-color="#dc0022"/></linearGradient></defs>
<rect x="475.1" y="564.9" width="5.0" height="23.9" fill="url(#gp2)"/>
<text x="483.60" y="572.20" font-size="6.10" fill="#222">.03</text>
<text x="483.60" y="578.60" font-size="6.10" fill="#222">.02</text>
<text x="483.60" y="584.90" font-size="6.10" fill="#222">.01</text>
</svg>
</body></html>
